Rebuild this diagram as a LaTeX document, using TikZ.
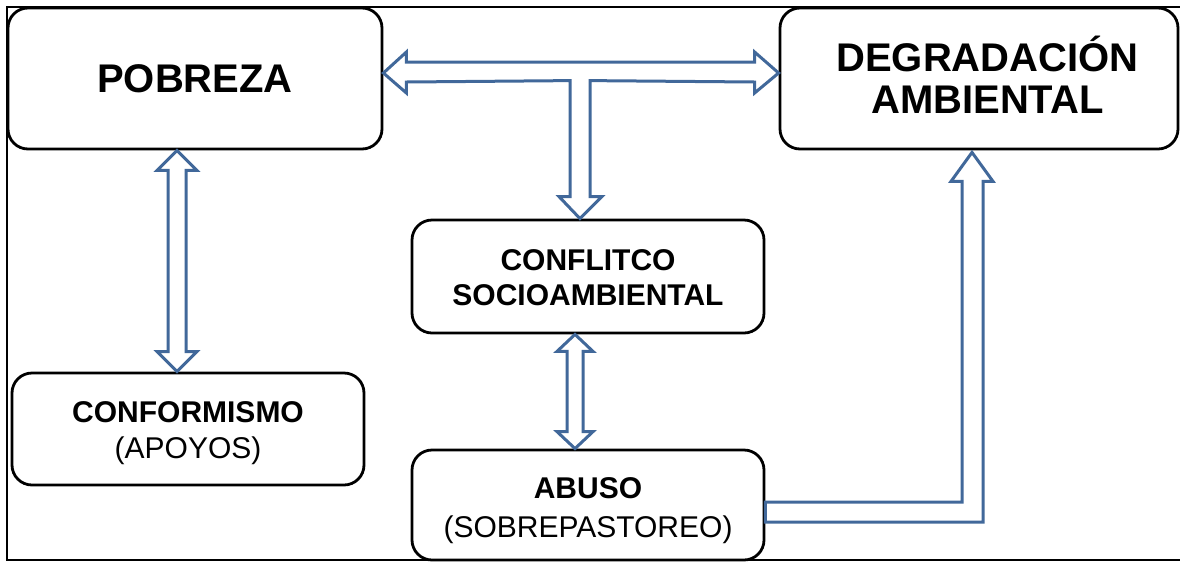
\documentclass[tikz,border=0pt]{standalone}
\usepackage{fontspec}
\setmainfont{Liberation Sans}
\usetikzlibrary{calc}
\definecolor{arrowblue}{RGB}{65,104,154}
\begin{document}
\begin{tikzpicture}[x=1pt,y=-1pt,
  box/.style={draw=black,fill=white,line width=2.8pt,rounded corners=20pt,
    inner sep=0pt,align=center},
  fat/.style={draw=arrowblue,fill=white,line width=3pt,line join=miter},
  big/.style={font={\fontsize{40}{45}\selectfont\bfseries}},
  small/.style={font={\fontsize{30}{36}\selectfont}}]
\useasboundingbox (0,0) rectangle (1180,566);
% frame
\draw[line width=2.8pt] (1180,7) -- (7,7) -- (7,560) -- (1180,560);
% boxes
\node[box,big,minimum width=374pt,minimum height=141pt] (pob) at (195,78.5) {POBREZA};
\node[box,big,minimum width=398pt,minimum height=141pt] (deg) at (979,78.5)
  {\hspace*{17pt}\raisebox{-3pt}[\height][\depth]{\begin{tabular}{@{}c@{}}DEGRADACIÓN\\[-3pt]AMBIENTAL\end{tabular}}};
\node[box,small,minimum width=352pt,minimum height=113pt] (con) at (588,276.5)
  {\raisebox{-4pt}[\height][\depth]{\begin{tabular}{@{}c@{}}\textbf{CONFLITCO}\\[-1pt]\textbf{SOCIOAMBIENTAL}\end{tabular}}};
\node[box,small,minimum width=352pt,minimum height=112pt] (conf) at (188,429)
  {\raisebox{-4pt}[\height][\depth]{\begin{tabular}{@{}c@{}}\textbf{CONFORMISMO}\\(APOYOS)\end{tabular}}};
\node[box,small,minimum width=352pt,minimum height=110pt] (abu) at (588,505)
  {\raisebox{-6pt}[\height][\depth]{\begin{tabular}{@{}c@{}}\textbf{ABUSO}\\[3pt](SOBREPASTOREO)\end{tabular}}};
% T-shaped arrow: POBREZA <-> DEGRADACION, down to CONFLICTO
\coordinate (tl) at (pob.east |- 0,73);
\coordinate (tr) at (deg.west |- 0,73);
\coordinate (td) at (con.north -| 580,0);
\draw[fat] (tl) -- ++(23,-21) -- ++(0,10) -- ($(tr)+(-24,-11)$) -- ++(0,-10) -- (tr)
  -- ++(-24,20) -- ++(0,-11) -- ($(td)+(10,-138)$) -- ++(0,116) -- ++(12,0) -- (td)
  -- ++(-21,-22) -- ++(11,0) -- ++(0,-116) -- ($(tl)+(23,9)$) -- ++(0,11) -- cycle;
% POBREZA <-> CONFORMISMO
\coordinate (a1) at (pob.south -| 177,0);
\coordinate (a2) at (conf.north -| 177,0);
\draw[fat] (a1) -- ++(20,20) -- ++(-11,0) -- ($(a2)+(9,-20)$) -- ++(11,0) -- (a2)
  -- ++(-20,-20) -- ++(11,0) -- ($(a1)+(-9,20)$) -- ++(-11,0) -- cycle;
% CONFLICTO <-> ABUSO
\coordinate (b1) at (con.south -| 575,0);
\coordinate (b2) at (abu.north -| 575,0);
\draw[fat] (b1) -- ++(18,17) -- ++(-10,0) -- ($(b2)+(8,-17)$) -- ++(10,0) -- (b2)
  -- ++(-18,-17) -- ++(10,0) -- ($(b1)+(-8,17)$) -- ++(-10,0) -- cycle;
% ABUSO -> DEGRADACION
\coordinate (c1) at (abu.east |- 0,502);
\coordinate (c2) at (deg.south -| 972,0);
\coordinate (c3) at (c1 -| 962,0);
\coordinate (c4) at ($(c1)+(0,20)$);
\coordinate (c5) at (c4 -| 983,0);
\draw[fat] (c1) -- (c3) -- ($(c2)+(-10,31)$) -- ++(-11,0) -- ($(c2)+(0,2)$)
  -- ($(c2)+(21,31)$) -- ++(-10,0) -- (c5) -- (c4) -- cycle;
\end{tikzpicture}
\end{document}
